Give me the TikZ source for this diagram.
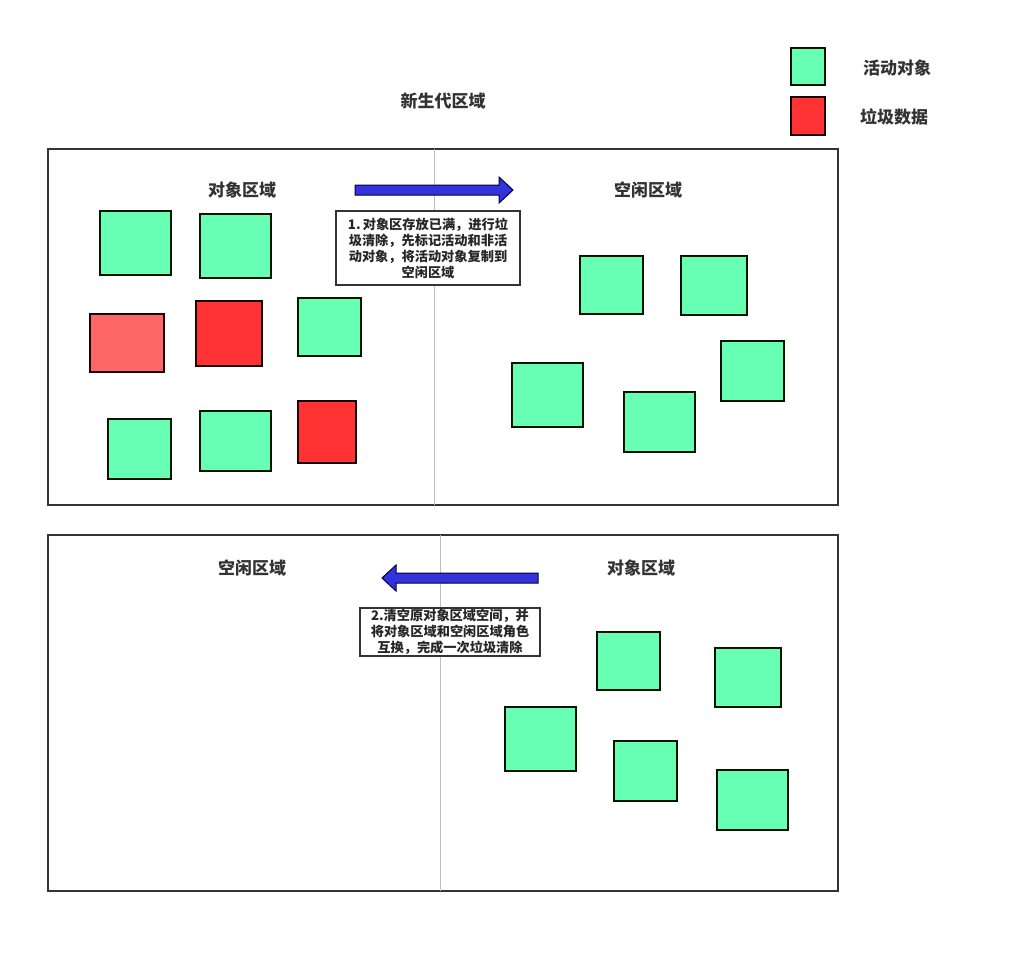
\documentclass[tikz,border=0pt]{standalone}
\usepackage{fontspec}
\setmainfont{Noto Sans CJK SC}
\begin{document}
\begin{tikzpicture}[x=1pt,y=-1pt,
  region/.style={draw=black!80,line width=1.2pt},
  divider/.style={draw=black!25,line width=1pt},
  obj/.style={draw=black!80!green!40!black,line width=1.3pt,fill=live},
  junk/.style={draw=black!75!red!40!black,line width=1.3pt,fill=garbage},
  lbl/.style={font=\fontsize{17}{19}\selectfont\bfseries,text=black!80},
  note/.style={draw=black!80,line width=1.2pt,fill=white,font=\fontsize{13.2}{16}\selectfont\bfseries,align=center,inner sep=0pt,text=black!85},
  bluearrow/.style={draw=black!60!blue!60!black,line width=1pt,fill=arrowblue}]
\definecolor{live}{HTML}{66FFB3}
\definecolor{garbage}{HTML}{FF3333}
\definecolor{garbagelight}{HTML}{FF6666}
\definecolor{arrowblue}{HTML}{3333DD}
\useasboundingbox (0,0) rectangle (1016,954);
\newcommand{\sq}[6]{\draw[#1] (#3,#4) rectangle node[inner sep=0pt] (#2) {} (#5,#6);}
% legend
\sq{obj}{legLive}{791}{48}{825}{85}
\sq{junk}{legJunk}{791}{97}{825}{135}
\node[lbl] (legLiveT) at (897,68) {活动对象};
\node[lbl] (legJunkT) at (894,117) {垃圾数据};
% title
\node[lbl] (title) at (443,101) {新生代区域};
% top region
\draw[region] (48,149) rectangle (838,505);
\draw[divider] (434,149) -- (434,505);
\node[lbl] (t1) at (242,190) {对象区域};
\node[lbl] (t2) at (648,190) {空闲区域};
\sq{obj}{a1}{100}{211}{171}{275}
\sq{obj}{a2}{200}{214}{271}{278}
\sq{junk,fill=garbagelight}{a3}{90}{314}{164}{372}
\sq{junk}{a4}{196}{301}{262}{366}
\sq{obj}{a5}{298}{298}{361}{356}
\sq{obj}{a6}{108}{419}{171}{479}
\sq{obj}{a7}{200}{411}{271}{471}
\sq{junk}{a8}{298}{401}{356}{463}
\sq{obj}{b1}{580}{256}{643}{314}
\sq{obj}{b2}{681}{256}{747}{315}
\sq{obj}{b3}{512}{363}{583}{427}
\sq{obj}{b4}{624}{392}{695}{452}
\sq{obj}{b5}{721}{341}{784}{401}
\draw[bluearrow] (355,185) -- (499,185) -- (499,177) -- (513,190) -- (499,203) -- (499,195) -- (355,195) -- cycle;
\node[note,minimum width=184pt,minimum height=74pt] (n1) at (428,248) {1.\,对象区存放已满，进行垃\\圾清除，先标记活动和非活\\动对象，将活动对象复制到\\空闲区域};
% bottom region
\draw[region] (48,535) rectangle (838,891);
\draw[divider] (440,535) -- (440,891);
\node[lbl] (t3) at (252,568) {空闲区域};
\node[lbl] (t4) at (641,568) {对象区域};
\draw[bluearrow] (538,573) -- (396,573) -- (396,565) -- (382,578) -- (396,591) -- (396,583) -- (538,583) -- cycle;
\node[note,minimum width=180pt,minimum height=48pt] (n2) at (450,632) {2.清空原对象区域空间，并\\将对象区域和空闲区域角色\\互换，完成一次垃圾清除};
\sq{obj}{c1}{597}{632}{660}{690}
\sq{obj}{c2}{715}{648}{781}{707}
\sq{obj}{c3}{505}{707}{576}{771}
\sq{obj}{c4}{614}{741}{677}{801}
\sq{obj}{c5}{717}{770}{788}{830}
\end{tikzpicture}
\end{document}
